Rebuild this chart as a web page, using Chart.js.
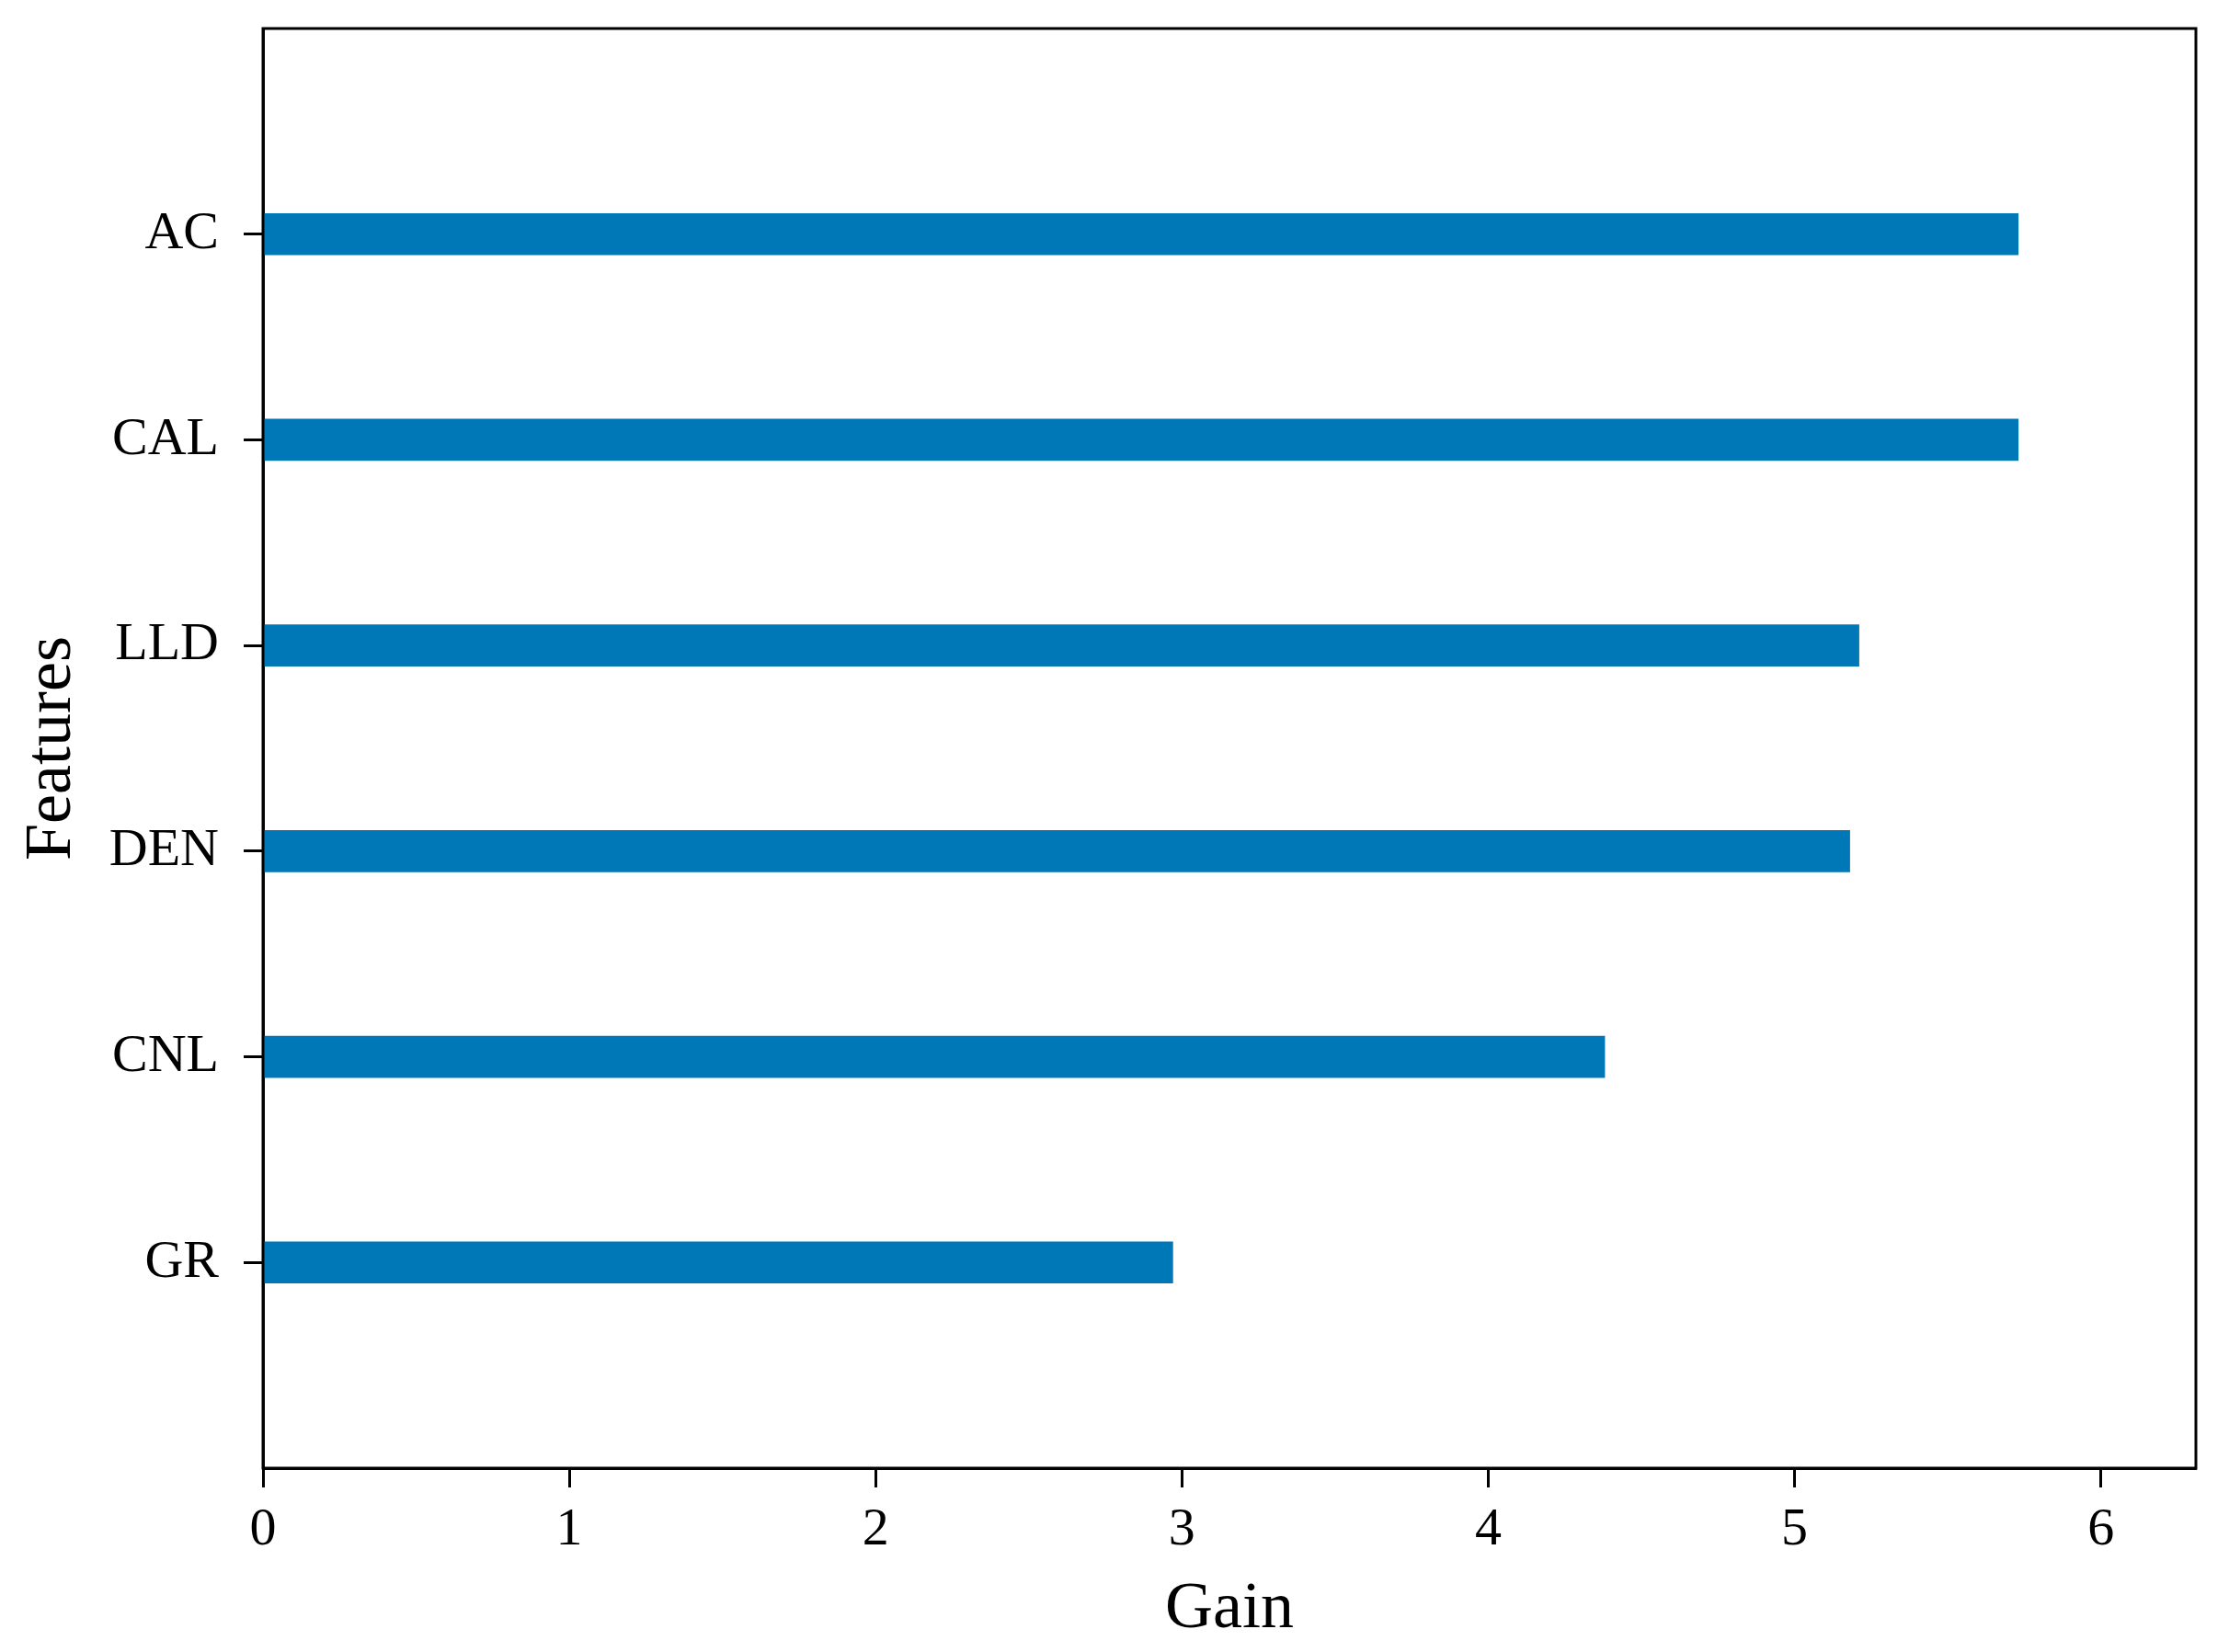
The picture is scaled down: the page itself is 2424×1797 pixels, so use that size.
<!DOCTYPE html>
<html>
<head>
<meta charset="utf-8">
<script src="https://cdn.jsdelivr.net/npm/chart.js@4/dist/chart.umd.min.js"></script>
<style>
  html, body { margin: 0; padding: 0; background: #fff; }
  canvas { display: block; }
</style>
</head>
<body>
<canvas id="chart" width="2424" height="1797"></canvas>
<script>
// feature importance (top to bottom)
const features = ['AC', 'CAL', 'LLD', 'DEN', 'CNL', 'GR'];
const gains = [5.73, 5.73, 5.21, 5.18, 4.38, 2.97];
const gainTicks = [0, 1, 2, 3, 4, 5, 6];
const xMax = 6.31;

// empty slots above and below so the bars sit one step away from the frame
const labels = [''].concat(features, ['']);
const values = [null].concat(gains, [null]);

const FONT = "'Liberation Serif', 'Times New Roman', serif";
const BLUE = '#0077b6';

// matplotlib style box round the plot area
const frame = {
  id: 'frame',
  afterDraw(chart) {
    const a = chart.chartArea, ctx = chart.ctx;
    ctx.save();
    ctx.strokeStyle = '#000';
    ctx.lineWidth = 3;
    ctx.strokeRect(a.left, a.top, a.right - a.left, a.bottom - a.top);
    ctx.restore();
  }
};

new Chart(document.getElementById('chart'), {
  type: 'bar',
  data: {
    labels: labels,
    datasets: [{ data: values, backgroundColor: BLUE, borderWidth: 0, barThickness: 45 }]
  },
  options: {
    indexAxis: 'y',
    responsive: false,
    animation: false,
    layout: { padding: { top: 31, right: 36, left: 0, bottom: 0 } },
    plugins: { legend: { display: false }, tooltip: { enabled: false } },
    scales: {
      x: {
        type: 'linear',
        min: 0,
        max: xMax,
        afterFit: s => { s.height = 200; },
        afterBuildTicks: s => { s.ticks = gainTicks.map(v => ({ value: v })); },
        ticks: {
          includeBounds: false,
          color: '#000',
          padding: 12,
          font: { family: FONT, size: 58 }
        },
        grid: { drawOnChartArea: false, drawTicks: true, tickLength: 21, tickWidth: 3, color: '#000' },
        border: { display: true, color: '#000', width: 3 },
        title: {
          display: true, text: 'Gain', color: '#000',
          font: { family: FONT, size: 72 }, padding: { top: 0, bottom: 3 }
        }
      },
      y: {
        type: 'category',
        offset: false,
        afterFit: s => { s.width = 286; s.paddingTop = 0; s.paddingBottom = 0; },
        ticks: {
          color: '#000',
          padding: 27,
          autoSkip: false,
          font: { family: FONT, size: 58 }
        },
        grid: {
          offset: false,
          drawOnChartArea: false,
          drawTicks: true,
          tickLength: 21,
          tickWidth: 3,
          tickColor: ctx => (ctx.index === 0 || ctx.index === labels.length - 1) ? 'rgba(0,0,0,0)' : '#000'
        },
        border: { display: true, color: '#000', width: 3 },
        title: {
          display: true, text: 'Features', color: '#000',
          font: { family: FONT, size: 72 }, padding: { top: 14, bottom: 0 }
        }
      }
    }
  },
  plugins: [frame]
});
</script>
</body>
</html>
